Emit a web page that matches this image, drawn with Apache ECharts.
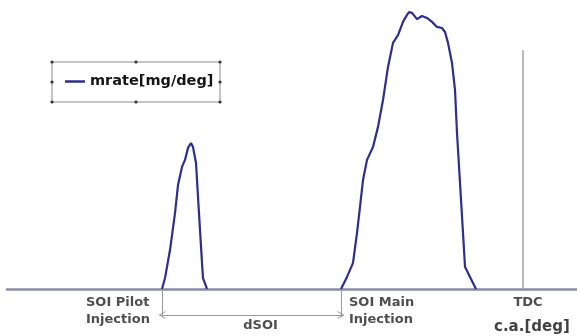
<!DOCTYPE html>
<html>
<head>
<meta charset="utf-8">
<script src="https://cdn.jsdelivr.net/npm/echarts@6/dist/echarts.min.js"></script>
<style>
  html, body { margin: 0; padding: 0; background: #fff; }
  #chart { width: 577px; height: 336px; }
</style>
</head>
<body>
<div id="chart"></div>
<script>
// injection rate trace (crank angle rel. TDC, mg/deg)
const pilotAngle = [-36.1, -35.8, -35.3, -34.8, -34.5, -34.1, -33.8, -33.5, -33.2, -33.0, -32.7, -32.5, -32.3, -32.1, -32.0, -31.6];
const pilotRate  = [0, 0.39, 1.39, 2.71, 3.71, 4.36, 4.61, 5.04, 5.21, 5.07, 4.5, 3.29, 2.11, 0.93, 0.39, 0];

const mainAngle = [-18.2, -17.6, -17.0, -16.6, -16.3, -16.0, -15.6, -15.0, -14.5, -14.0, -13.5, -13.0, -12.5, -12.0, -11.6, -11.4,
                   -11.1, -10.6, -10.1, -9.6, -9.1, -8.6, -8.1, -7.8, -7.5, -7.1, -6.8, -6.6, -6.3, -6.0, -5.8, -5.3, -4.7];
const mainRate  = [0, 0.43, 0.93, 2.0, 2.93, 3.89, 4.61, 5.07, 5.79, 6.75, 7.93, 8.79, 9.07, 9.54, 9.79, 9.89,
                   9.86, 9.64, 9.75, 9.68, 9.54, 9.36, 9.32, 9.18, 8.79, 8.07, 7.11, 5.57, 3.79, 2.0, 0.79, 0.43, 0];

const soiPilot = -36.1;
const soiMain = -18.2;
const tdc = 0;

const seriesName = 'mrate[mg/deg]';
const labelPilot = 'SOI Pilot\nInjection';
const labelMain = 'SOI Main\nInjection';
const labelTdc = 'TDC';
const labelDsoi = 'dSOI';
const labelAxis = 'c.a.[deg]';

// one trace, gap between the two pulses
const trace = [];
pilotAngle.forEach((a, i) => trace.push([a, pilotRate[i]]));
trace.push([ -25, null ]);
mainAngle.forEach((a, i) => trace.push([a, mainRate[i]]));

const myChart = echarts.init(document.getElementById('chart'));

const font = '"DejaVu Sans", Arial, sans-serif';
const chevron = 'path://M0,10 L5,0 L10,10 L8.6,10 L5,3 L1.4,10 Z';

function textPoint(x, y, text, opts) {
  return {
    value: [x, y],
    name: text,
    label: Object.assign({
      show: true,
      formatter: '{b}',
      position: 'inside',
      color: '#222',
      fontFamily: font,
      fontWeight: 'bold',
      fontSize: 13,
      lineHeight: 17
    }, opts)
  };
}

myChart.setOption({
  animation: false,
  grid: { left: 7, right: 0, top: 9, bottom: 0 },
  xAxis: {
    type: 'value',
    min: -51.6,
    max: 5.4,
    axisLine: { show: true, onZero: true, lineStyle: { color: '#8a8aa2', width: 2.5 } },
    axisTick: { show: false },
    axisLabel: { show: false },
    splitLine: { show: false }
  },
  yAxis: {
    type: 'value',
    min: -1.68,
    max: 10,
    show: false,
    splitLine: { show: false }
  },
  legend: {
    left: 65,
    top: 74,
    padding: 0,
    icon: 'rect',
    itemWidth: 20,
    itemHeight: 2.5,
    itemGap: 0,
    data: [seriesName],
    textStyle: { color: '#151515', fontFamily: font, fontWeight: 'bold', fontSize: 14.5, padding: [0, 0, 0, 0] }
  },
  graphic: [
    { type: 'rect', shape: { x: 52, y: 62, width: 168, height: 40 }, style: { fill: 'none', stroke: '#8c8c8c', lineWidth: 1 } },
    ...[[52, 62], [136, 62], [220, 62], [52, 82], [220, 82], [52, 102], [136, 102], [220, 102]].map(p => ({
      type: 'circle', shape: { cx: p[0], cy: p[1], r: 1.6 }, style: { fill: '#333' }
    }))
  ],
  series: [
    {
      name: seriesName,
      type: 'line',
      data: trace,
      symbol: 'none',
      connectNulls: false,
      lineStyle: { color: '#2e2e8e', width: 2.2 },
      itemStyle: { color: '#2e2e8e' },
      markLine: {
        silent: true,
        symbol: 'none',
        label: { show: false },
        data: [
          [{ coord: [tdc, 0] }, { coord: [tdc, 8.54], lineStyle: { color: '#a4a4a4', width: 1.5, type: 'solid' } }],
          [{ coord: [soiPilot, 0] }, { coord: [soiPilot, -1.0], lineStyle: { color: '#9a9a9a', width: 1, type: 'solid' } }],
          [{ coord: [soiMain, 0] }, { coord: [soiMain, -1.0], lineStyle: { color: '#9a9a9a', width: 1, type: 'solid' } }]
        ]
      }
    },
    {
      // dSOI arrow
      type: 'line',
      data: [],
      markLine: {
        silent: true,
        symbol: [chevron, chevron],
        symbolSize: [8, 7],
        label: { show: false },
        lineStyle: { color: '#9a9a9a', width: 1, type: 'solid' },
        data: [[{ coord: [soiPilot, -0.93] }, { coord: [soiMain, -0.93] }]]
      }
    },
    {
      type: 'scatter',
      symbolSize: 0,
      silent: true,
      data: [
        textPoint(soiPilot - 7.6, -0.79, labelPilot, { align: 'left', verticalAlign: 'middle' }),
        textPoint(soiMain + 0.8, -0.79, labelMain, { align: 'left', verticalAlign: 'middle' }),
        textPoint(tdc + 0.5, -0.5, labelTdc, { align: 'center', verticalAlign: 'middle' }),
        textPoint((soiPilot + soiMain) / 2 + 0.9, -1.3, labelDsoi, { align: 'center', verticalAlign: 'middle' }),
        textPoint(tdc - 2.9, -1.36, labelAxis, { align: 'left', verticalAlign: 'middle', fontSize: 15, color: '#111' })
      ]
    }
  ]
});
</script>
</body>
</html>
